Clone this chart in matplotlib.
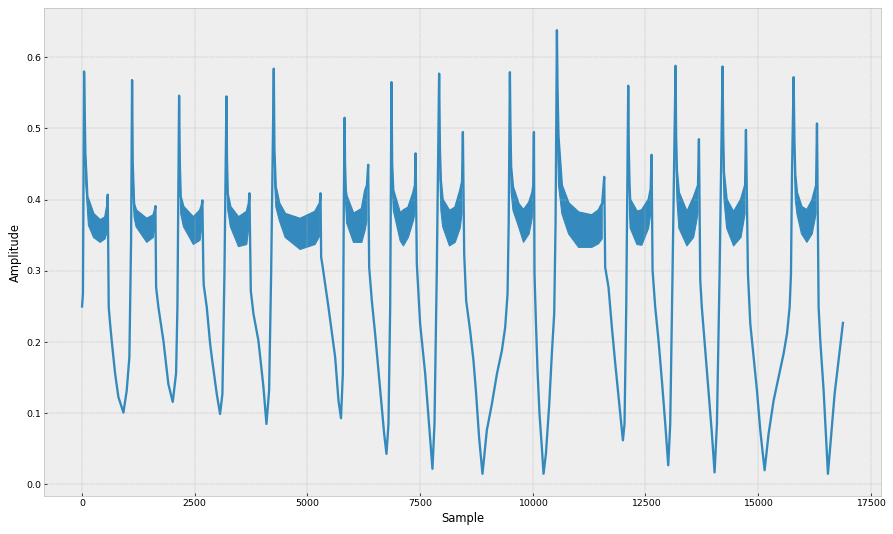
import numpy as np
import matplotlib
matplotlib.use("Agg")
import matplotlib.pyplot as plt

# --- key points of the trace (sample, amplitude) ---
trace_pts = [
    (0, 0.250), (20, 0.268), (45, 0.580), (74, 0.465),
    (119, 0.404), (141, 0.400), (253, 0.380), (402, 0.371), (513, 0.375), (555, 0.390), (570, 0.407),
    (592, 0.249), (622, 0.226), (658, 0.202), (733, 0.156), (806, 0.123), (918, 0.101), (991, 0.132),
    (1050, 0.179), (1088, 0.343), (1110, 0.568),
    (1125, 0.450), (1155, 0.394), (1198, 0.385), (1435, 0.373), (1583, 0.378), (1615, 0.385), (1628, 0.391),
    (1643, 0.277), (1694, 0.249), (1805, 0.202), (1915, 0.141), (2012, 0.116), (2086, 0.156), (2116, 0.249),
    (2153, 0.546),
    (2170, 0.450), (2189, 0.404), (2249, 0.390), (2470, 0.375), (2619, 0.385), (2655, 0.392), (2670, 0.399),
    (2692, 0.296), (2700, 0.280), (2767, 0.249), (2841, 0.198), (2878, 0.179), (2989, 0.127), (3062, 0.099),
    (3114, 0.127), (3159, 0.296), (3204, 0.545),
    (3215, 0.460), (3233, 0.408), (3290, 0.390), (3470, 0.375), (3655, 0.383), (3700, 0.395), (3714, 0.409),
    (3744, 0.272), (3802, 0.240), (3913, 0.202), (4024, 0.137), (4091, 0.085), (4150, 0.132), (4195, 0.296),
    (4254, 0.584),
    (4268, 0.470), (4298, 0.418), (4375, 0.395), (4505, 0.380), (4838, 0.373), (5171, 0.383), (5275, 0.395),
    (5290, 0.409),
    (5305, 0.319), (5333, 0.308), (5467, 0.249), (5615, 0.179), (5689, 0.118), (5745, 0.093), (5786, 0.156),
    (5808, 0.400), (5825, 0.515),
    (5835, 0.450), (5851, 0.413), (5870, 0.405), (6021, 0.380), (6207, 0.387), (6281, 0.413), (6320, 0.420),
    (6348, 0.449),
    (6370, 0.305), (6429, 0.258), (6503, 0.211), (6576, 0.160), (6651, 0.109), (6703, 0.071), (6754, 0.043),
    (6798, 0.085), (6836, 0.249), (6865, 0.565),
    (6880, 0.450), (6905, 0.413), (7058, 0.380), (7130, 0.385), (7240, 0.389), (7350, 0.410), (7385, 0.420),
    (7400, 0.465),
    (7427, 0.310), (7500, 0.226), (7612, 0.156), (7686, 0.095), (7774, 0.022), (7819, 0.085), (7870, 0.300),
    (7922, 0.577),
    (7940, 0.470), (7960, 0.427), (8000, 0.400), (8151, 0.384), (8280, 0.389), (8390, 0.413), (8430, 0.425),
    (8449, 0.495),
    (8478, 0.324), (8522, 0.258), (8610, 0.216), (8684, 0.174), (8740, 0.130), (8810, 0.065), (8884, 0.015),
    (8980, 0.076), (9092, 0.113), (9203, 0.155), (9314, 0.188), (9388, 0.221), (9440, 0.268), (9465, 0.366),
    (9492, 0.579),
    (9505, 0.500), (9520, 0.446), (9560, 0.418), (9684, 0.394), (9794, 0.385), (9920, 0.396), (9990, 0.410),
    (10010, 0.420), (10025, 0.495),
    (10038, 0.296), (10068, 0.230), (10105, 0.160), (10149, 0.099), (10201, 0.052), (10238, 0.015),
    (10291, 0.043), (10365, 0.113), (10423, 0.184), (10475, 0.240), (10505, 0.366), (10535, 0.638),
    (10550, 0.550), (10571, 0.488), (10645, 0.420), (10793, 0.395), (11015, 0.382), (11310, 0.378),
    (11460, 0.385), (11540, 0.395), (11585, 0.432),
    (11606, 0.305), (11680, 0.277), (11754, 0.221), (11829, 0.170), (11925, 0.109), (11999, 0.062),
    (12035, 0.085), (12073, 0.249), (12117, 0.560),
    (12130, 0.470), (12146, 0.422), (12160, 0.400), (12310, 0.383), (12420, 0.385), (12570, 0.400),
    (12615, 0.415), (12635, 0.463),
    (12657, 0.301), (12716, 0.249), (12790, 0.202), (12864, 0.146), (12939, 0.085), (13005, 0.027),
    (13049, 0.085), (13100, 0.296), (13167, 0.588),
    (13180, 0.490), (13197, 0.441), (13240, 0.410), (13420, 0.382), (13570, 0.403), (13665, 0.420),
    (13686, 0.485),
    (13715, 0.287), (13750, 0.249), (13826, 0.188), (13900, 0.127), (13974, 0.071), (14033, 0.017),
    (14085, 0.085), (14144, 0.296), (14210, 0.587),
    (14225, 0.490), (14241, 0.438), (14300, 0.400), (14455, 0.382), (14620, 0.400), (14710, 0.420),
    (14729, 0.498),
    (14773, 0.296), (14825, 0.226), (14899, 0.179), (14973, 0.132), (15047, 0.076), (15143, 0.020),
    (15231, 0.071), (15343, 0.118), (15454, 0.151), (15565, 0.184), (15640, 0.212), (15698, 0.249),
    (15728, 0.296), (15750, 0.436), (15787, 0.572),
    (15805, 0.480), (15823, 0.436), (15860, 0.410), (15960, 0.390), (16082, 0.385), (16200, 0.399),
    (16285, 0.420), (16305, 0.507),
    (16341, 0.249), (16378, 0.202), (16452, 0.132), (16510, 0.062), (16548, 0.015), (16622, 0.071),
    (16696, 0.127), (16784, 0.174), (16881, 0.227),
]

# --- fast-oscillation bands: (sample, upper envelope, lower envelope), None between bands ---
band_pts = [
    (74, 0.465, 0.430), (119, 0.404, 0.385), (141, 0.400, 0.364), (253, 0.380, 0.347), (402, 0.371, 0.340),
    (513, 0.375, 0.345), (555, 0.390, 0.355), None,
    (1125, 0.450, 0.410), (1155, 0.394, 0.375), (1198, 0.385, 0.362), (1435, 0.373, 0.340),
    (1583, 0.378, 0.347), (1615, 0.385, 0.360), None,
    (2170, 0.450, 0.420), (2189, 0.404, 0.380), (2249, 0.390, 0.362), (2470, 0.375, 0.337),
    (2619, 0.385, 0.343), (2655, 0.392, 0.360), None,
    (3215, 0.460, 0.420), (3233, 0.408, 0.385), (3290, 0.390, 0.362), (3470, 0.375, 0.334),
    (3655, 0.383, 0.337), (3700, 0.395, 0.360), None,
    (4268, 0.470, 0.430), (4298, 0.418, 0.390), (4375, 0.395, 0.371), (4505, 0.380, 0.347),
    (4838, 0.373, 0.330), (5171, 0.383, 0.337), (5275, 0.395, 0.349), None,
    (5835, 0.450, 0.420), (5851, 0.413, 0.390), (5870, 0.405, 0.367), (6021, 0.380, 0.340),
    (6207, 0.387, 0.340), (6281, 0.413, 0.357), (6320, 0.420, 0.370), None,
    (6880, 0.450, 0.420), (6905, 0.413, 0.385), (7058, 0.380, 0.342), (7130, 0.385, 0.335),
    (7240, 0.389, 0.347), (7350, 0.410, 0.370), (7385, 0.420, 0.380), None,
    (7940, 0.470, 0.430), (7960, 0.427, 0.385), (8000, 0.400, 0.362), (8151, 0.384, 0.335),
    (8280, 0.389, 0.340), (8390, 0.413, 0.360), (8430, 0.425, 0.380), None,
    (9505, 0.500, 0.450), (9520, 0.446, 0.410), (9560, 0.418, 0.385), (9684, 0.394, 0.362),
    (9794, 0.385, 0.340), (9920, 0.396, 0.352), (9990, 0.410, 0.375), (10010, 0.420, 0.385), None,
    (10550, 0.550, 0.470), (10571, 0.488, 0.420), (10645, 0.420, 0.380), (10793, 0.395, 0.352),
    (11015, 0.382, 0.333), (11310, 0.378, 0.333), (11460, 0.385, 0.338), (11540, 0.395, 0.345), None,
    (12130, 0.470, 0.430), (12146, 0.422, 0.380), (12160, 0.400, 0.360), (12310, 0.383, 0.337),
    (12420, 0.385, 0.336), (12570, 0.400, 0.360), (12615, 0.415, 0.380), None,
    (13180, 0.490, 0.440), (13197, 0.441, 0.400), (13240, 0.410, 0.360), (13420, 0.382, 0.335),
    (13570, 0.403, 0.347), (13665, 0.420, 0.380), None,
    (14225, 0.490, 0.440), (14241, 0.438, 0.400), (14300, 0.400, 0.360), (14455, 0.382, 0.335),
    (14620, 0.400, 0.347), (14710, 0.420, 0.380), None,
    (15805, 0.480, 0.440), (15823, 0.436, 0.400), (15860, 0.410, 0.380), (15960, 0.390, 0.352),
    (16082, 0.385, 0.340), (16200, 0.399, 0.352), (16285, 0.420, 0.380),
]

plt.style.use("bmh")
plt.rcParams["xtick.labelsize"] = 10.5
plt.rcParams["ytick.labelsize"] = 10.5
plt.rcParams["axes.labelsize"] = 13

trace = np.array(trace_pts)
band = np.array([p if p is not None else (np.nan, np.nan, np.nan) for p in band_pts])

fig = plt.figure(figsize=(893 / 64, 534 / 64), dpi=64)
ax = fig.add_axes([44 / 893, 38 / 534, 837 / 893, 488 / 534])

cor = "#348ABD"
ax.fill_between(band[:, 0], band[:, 2], band[:, 1], color=cor, lw=1.2)
ax.plot(trace[:, 0], trace[:, 1], color=cor, lw=2.6)

ax.set_xlabel("Sample")
ax.set_ylabel("Amplitude")

fig.savefig("out.png", dpi=64)
